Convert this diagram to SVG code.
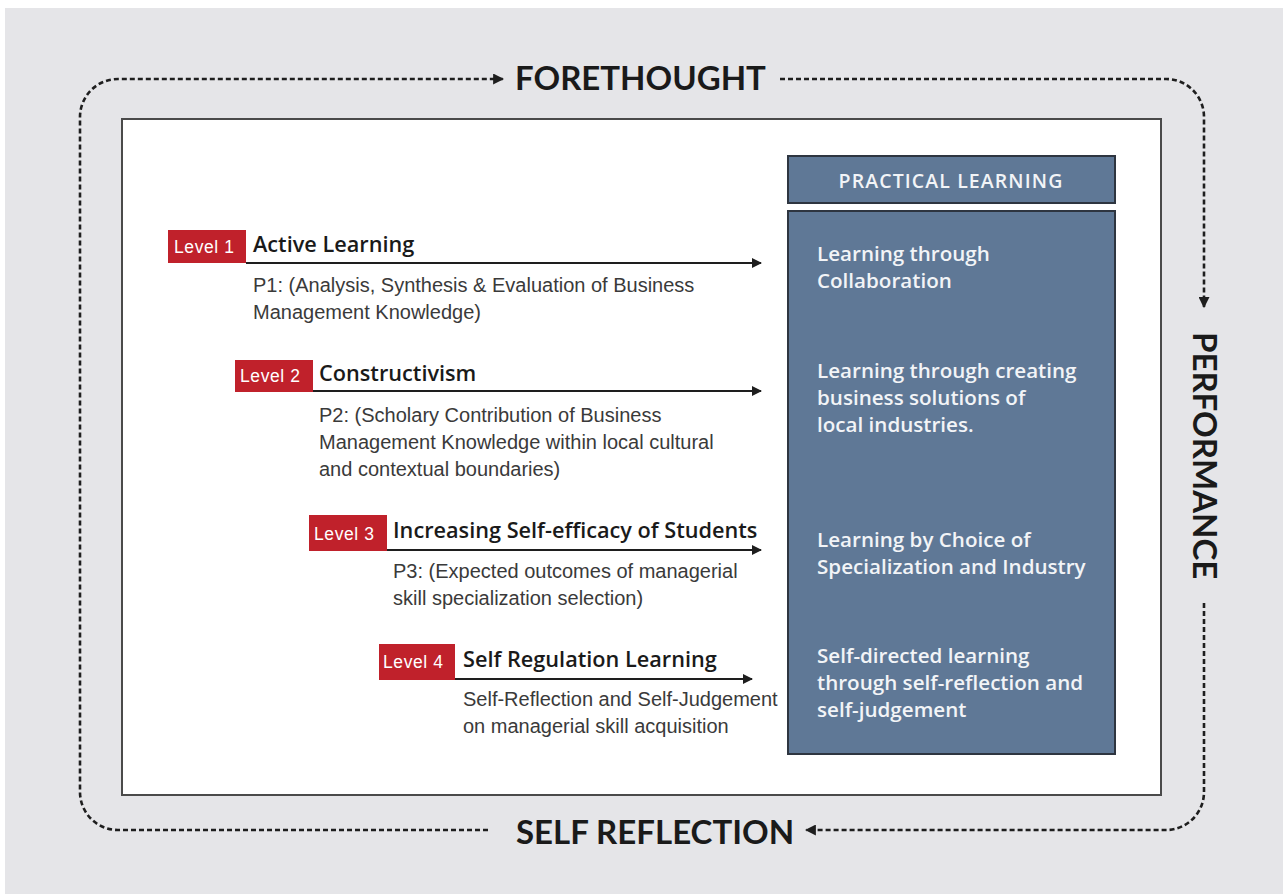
<svg xmlns="http://www.w3.org/2000/svg" width="1283" height="894" viewBox="0 0 1283 894">
<defs>
<style>
.loop{fill:none;stroke:#1e1e1e;stroke-width:2.6;stroke-dasharray:5 3}
.phase{font-family:Lato,"Open Sans",sans-serif;font-weight:700;font-size:33px;fill:#1a1a1a}
.badge{fill:#c0212b}
.badgeT{font-family:"Liberation Sans",Arial,sans-serif;font-size:17.5px;letter-spacing:0.6px;fill:#fff}
.head{font-family:"Open Sans",Lato,sans-serif;font-weight:600;font-size:21.7px;fill:#1a1a1a}
.desc{font-family:"Liberation Sans",Arial,sans-serif;font-size:20px;fill:#3a3a3a}
.arrow{stroke:#1e1e1e;stroke-width:2;fill:none}
.pbox{fill:#5f7896;stroke:#2e3540;stroke-width:2}
.pT{font-family:"Open Sans",Lato,sans-serif;font-weight:600;font-size:20.6px;fill:#f2f4f7}
</style>
<marker id="ah" viewBox="0 0 10 10" refX="9" refY="5" markerWidth="10" markerHeight="10" markerUnits="userSpaceOnUse" orient="auto">
<path d="M0,0 L10,5 L0,10 z" fill="#1e1e1e"/>
</marker>
<marker id="ah2" viewBox="0 0 10 10" refX="9" refY="5" markerWidth="11" markerHeight="11" markerUnits="userSpaceOnUse" orient="auto">
<path d="M0,0 L10,5 L0,10 z" fill="#1e1e1e"/>
</marker>
</defs>
<rect x="0" y="0" width="1283" height="894" fill="#ffffff"/>
<rect x="5" y="8" width="1278" height="886" fill="#e5e5e8"/>
<rect x="122" y="119" width="1039" height="676" fill="#ffffff" stroke="#4a4a4a" stroke-width="2"/>

<g id="connectors">
<path class="loop" d="M488,830 L118,830 A38,38 0 0 1 80,792 L80,117 A38,38 0 0 1 118,79 L503,79" marker-end="url(#ah2)"/>
<path class="loop" d="M780,79 L1166,79 A38,38 0 0 1 1204,117 L1204,307" marker-end="url(#ah2)"/>
<path class="loop" d="M1204,603 L1204,792 A38,38 0 0 1 1166,830 L806,830" marker-end="url(#ah2)"/>
<line class="arrow" x1="246" y1="263" x2="761" y2="263" marker-end="url(#ah)"/>
<line class="arrow" x1="313" y1="391" x2="761" y2="391" marker-end="url(#ah)"/>
<line class="arrow" x1="387" y1="550" x2="761" y2="550" marker-end="url(#ah)"/>
<line class="arrow" x1="455" y1="679" x2="752" y2="679" marker-end="url(#ah)"/>
</g>

<g id="forethought"><text class="phase" x="515" y="90">FORETHOUGHT</text></g>
<g id="performance"><text class="phase" transform="translate(1193,332) rotate(90)">PERFORMANCE</text></g>
<g id="self-reflection"><text class="phase" x="516" y="844">SELF REFLECTION</text></g>

<g id="level1">
<rect class="badge" x="168" y="230" width="78" height="33"/>
<text class="badgeT" x="174" y="253">Level 1</text>
<text class="head" x="253" y="252">Active Learning</text>
<text class="desc" x="253" y="292">P1:  (Analysis, Synthesis &amp; Evaluation of Business</text>
<text class="desc" x="253" y="319">Management Knowledge)</text>
</g>
<g id="level2">
<rect class="badge" x="235" y="360" width="78" height="32"/>
<text class="badgeT" x="240" y="382">Level 2</text>
<text class="head" x="319" y="381">Constructivism</text>
<text class="desc" x="319" y="422">P2:  (Scholary Contribution of Business</text>
<text class="desc" x="319" y="449">Management  Knowledge within local cultural</text>
<text class="desc" x="319" y="476">and contextual boundaries)</text>
</g>
<g id="level3">
<rect class="badge" x="309" y="515" width="78" height="36"/>
<text class="badgeT" x="314" y="540">Level 3</text>
<text class="head" x="393" y="538">Increasing Self-efficacy of Students</text>
<text class="desc" x="393" y="578">P3: (Expected outcomes of managerial</text>
<text class="desc" x="393" y="605">skill specialization selection)</text>
</g>
<g id="level4">
<rect class="badge" x="379" y="644" width="76" height="36"/>
<text class="badgeT" x="383" y="668">Level 4</text>
<text class="head" x="463" y="667">Self Regulation Learning</text>
<text class="desc" x="463" y="706">Self-Reflection and Self-Judgement</text>
<text class="desc" x="463" y="733">on managerial skill acquisition</text>
</g>

<g id="practical-header">
<rect class="pbox" x="788" y="156" width="327" height="47"/>
<text class="pT" x="951" y="188" text-anchor="middle" style="font-size:19.5px;letter-spacing:1.1px">PRACTICAL LEARNING</text>
</g>
<g id="practical-body">
<rect class="pbox" x="788" y="211" width="327" height="543"/>
<text class="pT" x="817" y="261">Learning through</text>
<text class="pT" x="817" y="288">Collaboration</text>
<text class="pT" x="817" y="378">Learning through creating</text>
<text class="pT" x="817" y="405">business solutions of</text>
<text class="pT" x="817" y="432">local industries.</text>
<text class="pT" x="817" y="547">Learning by Choice of</text>
<text class="pT" x="817" y="574">Specialization and Industry</text>
<text class="pT" x="817" y="663">Self-directed learning</text>
<text class="pT" x="817" y="690">through self-reflection and</text>
<text class="pT" x="817" y="717">self-judgement</text>
</g>
</svg>
